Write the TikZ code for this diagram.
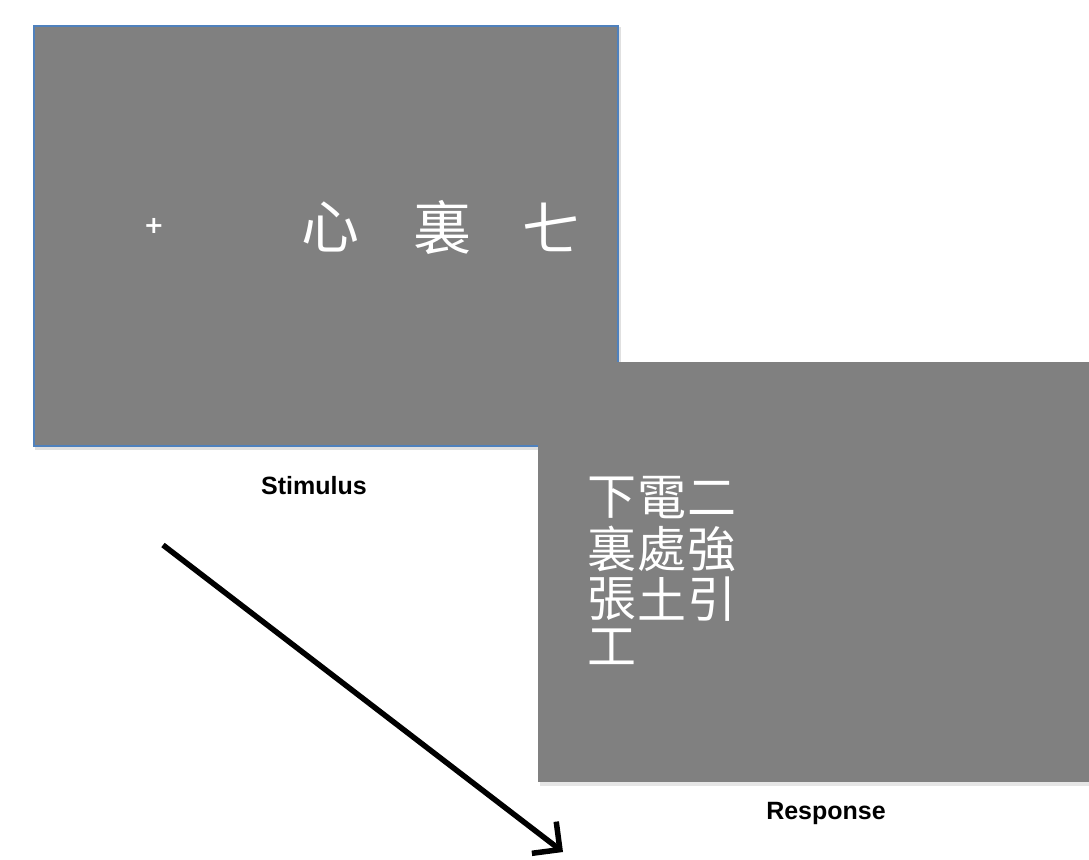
\documentclass[tikz,border=0pt]{standalone}
\usepackage{fontspec}
\setmainfont{Liberation Sans}
\newfontfamily\cjk{Noto Sans CJK TC}
\newfontfamily\plusfont{DejaVu Sans Bold}
\usetikzlibrary{arrows.meta}
\definecolor{panelgray}{RGB}{128,128,128}
\definecolor{panelborder}{RGB}{79,129,189}
\tikzset{
  stimchar/.style={text=white, font=\cjk\fontsize{58}{58}\selectfont, inner sep=0pt, anchor=center},
  respchar/.style={text=white, font=\cjk\fontsize{49}{49}\selectfont, inner sep=0pt, anchor=center},
  caption/.style={font=\bfseries\fontsize{25}{28}\selectfont, text=black, inner sep=0pt},
  bigarrow/.style={line width=5.5pt, -{Straight Barb[length=20pt,width=40pt,line width=5.5pt]}}
}
\begin{document}
\begin{tikzpicture}[x=1pt,y=-1pt]
\useasboundingbox (0,0) rectangle (1089,859);
\fill[white] (0,0) rectangle (1089,859);
% stimulus panel
\fill[black!12] (35,27) rectangle (621,450);
\filldraw[fill=panelgray, draw=panelborder, line width=1.6pt] (34,26) rectangle (618,446);
\node[text=white, font=\plusfont\fontsize{24}{24}\selectfont, inner sep=0pt] (plus) at (154,226) {+};
\node[stimchar] (s1) at (330,227) {心};
\node[stimchar] (s2) at (442,227) {裏};
\node[stimchar] (s3) at (551,227) {七};
\node[caption] (stimlabel) at (314,486) {Stimulus};
% response panel
\fill[black!10] (540,364) rectangle (1089,786);
\fill[panelgray] (538,362) rectangle (1089,782);
\node[respchar] (r11) at (612,498) {下};
\node[respchar] (r12) at (662,498) {電};
\node[respchar] (r13) at (712,498) {二};
\node[respchar] (r21) at (612,549) {裏};
\node[respchar] (r22) at (662,549) {處};
\node[respchar] (r23) at (712,549) {強};
\node[respchar] (r31) at (612,599) {張};
\node[respchar] (r32) at (662,599) {土};
\node[respchar] (r33) at (712,599) {引};
\node[respchar] (r41) at (612,647) {工};
\node[caption] (resplabel) at (826,813) {Response};
% arrow
\coordinate (astart) at (163,545);
\coordinate (aend) at (563,852);
\draw[bigarrow] (astart) -- (aend);
\end{tikzpicture}
\end{document}
